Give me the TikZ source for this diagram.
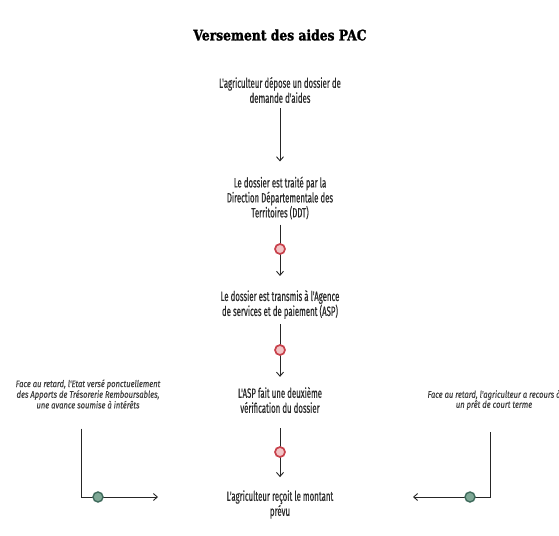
\documentclass[tikz,border=0pt]{standalone}
\usepackage{fontspec}
\usetikzlibrary{arrows.meta,calc}
\setmainfont{Fira Sans}
\newfontfamily\bodyfont[FakeStretch=0.58,FakeBold=0.35]{Fira Sans}
\newfontfamily\sidefont[FakeStretch=0.8,FakeBold=0.3]{Fira Sans}
\newfontfamily\titlefont[FakeStretch=0.85,FakeBold=1.5]{DejaVu Serif}
\definecolor{txt}{HTML}{2A2A2A}
\definecolor{sidetxt}{HTML}{404040}
\definecolor{redring}{HTML}{C8414B}
\definecolor{redfill}{HTML}{F2C4C6}
\definecolor{greenring}{HTML}{3F6B5C}
\definecolor{greenfill}{HTML}{7FA896}
\tikzset{
  x=1pt, y=-1pt,
  stepbox/.style={align=center, inner sep=0pt, text=txt,
    font=\bodyfont\fontsize{13.5}{15}\selectfont},
  sidebox/.style={align=center, inner sep=0pt, text=sidetxt,
    font=\sidefont\itshape\fontsize{9.5}{9.5}\selectfont},
  conn/.style={draw=black!85, line width=0.9pt, -{Straight Barb[length=4pt,width=7pt]}},
  redmark/.style={circle, draw=redring, fill=redfill, line width=1.7pt, minimum size=10pt, inner sep=0pt},
  greenmark/.style={circle, draw=greenring, fill=greenfill, line width=1.4pt, minimum size=10pt, inner sep=0pt},
}
\begin{document}
\begin{tikzpicture}
\useasboundingbox[fill=white] (0,0) rectangle (559,535);
\node[font=\titlefont\bfseries\fontsize{14.5}{16}\selectfont, text=black] (title) at (280,35) {Versement des aides PAC};

\node[stepbox] (s1) at (280,90) {L'agriculteur dépose un dossier de\\demande d'aides};
\node[stepbox] (s2) at (280,198) {Le dossier est traité par la\\Direction Départementale des\\Territoires (DDT)};
\node[stepbox] (s3) at (280,304.5) {Le dossier est transmis à l'Agence\\de services et de paiement (ASP)};
\node[stepbox] (s4) at (280,400) {L'ASP fait une deuxième\\vérification du dossier};
\node[stepbox] (s5) at (280,504.5) {L'agriculteur reçoit le montant\\prévu};

\node[sidebox] (left) at (88,394) {Face au retard, l'Etat versé ponctuellement\\des Apports de Trésorerie Remboursables,\\une avance soumise à intérêts};
\node[sidebox, font=\sidefont\itshape\fontsize{9.5}{10}\selectfont] (right) at (494,400) {Face au retard, l'agriculteur a recours à\\un prêt de court terme};

\coordinate (lcorner) at (81,497);
\coordinate (ltip) at (158,497);
\coordinate (rcorner) at (490,497);
\coordinate (rtip) at (413,497);

\draw[conn, shorten <=5pt, shorten >=15pt] (s1) -- (s2);
\draw[conn, shorten <=5pt, shorten >=14pt] (s2) -- (s3);
\draw[conn, shorten <=5pt, shorten >=10pt] (s3) -- (s4);
\draw[conn, shorten <=15pt, shorten >=13pt] (s4) -- (s5);

\draw[conn, shorten <=20pt] (left.south -| lcorner) -- (lcorner) -- (ltip);
\draw[conn, shorten <=22pt] (right.south -| rcorner) -- (rcorner) -- (rtip);

\node[redmark] (m1) at (280,249) {};
\node[redmark] (m2) at (280,350) {};
\node[redmark] (m3) at (280,452) {};
\node[greenmark] (g1) at (98,497) {};
\node[greenmark] (g2) at (470,497) {};
\end{tikzpicture}
\end{document}
